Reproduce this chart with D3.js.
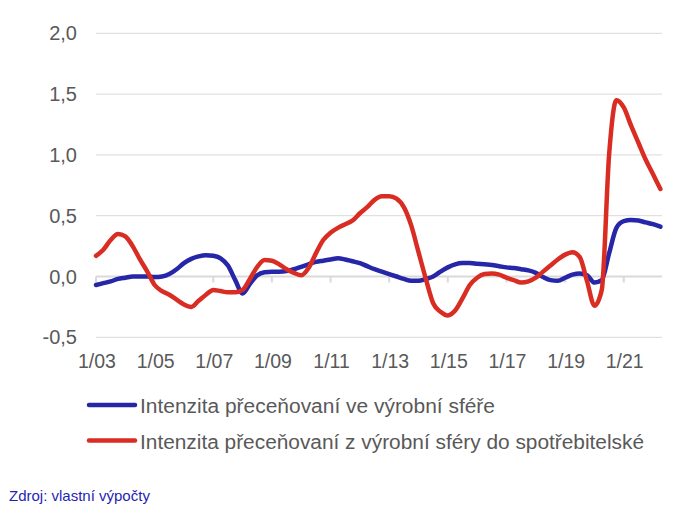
<!DOCTYPE html>
<html>
<head>
<meta charset="utf-8">
<script src="https://cdn.jsdelivr.net/npm/d3@7"></script>
<style>
  html, body { margin: 0; padding: 0; background: #fff; }
  svg { display: block; font-family: "Liberation Sans", Arial, sans-serif; }
</style>
</head>
<body>
<svg id="chart" width="690" height="515"></svg>
<script>
// Quarterly data 2003Q1 .. 2022Q2
const startYear = 2003;
const blueValues = [
  -0.07, -0.055, -0.04, -0.02, -0.01, 0.0, 0.0, 0.0,
  -0.005, 0.0, 0.02, 0.06, 0.11, 0.145, 0.165, 0.175,
  0.17, 0.15, 0.09, -0.03, -0.14, -0.06, 0.01, 0.035,
  0.04, 0.04, 0.045, 0.06, 0.08, 0.10, 0.12, 0.13,
  0.14, 0.15, 0.14, 0.125, 0.11, 0.085, 0.06, 0.04,
  0.02, 0.0, -0.02, -0.035, -0.035, -0.02, 0.0, 0.04,
  0.075, 0.10, 0.11, 0.11, 0.105, 0.10, 0.095, 0.085,
  0.075, 0.07, 0.06, 0.05, 0.03, -0.005, -0.03, -0.035,
  -0.01, 0.015, 0.025, 0.01, -0.05, -0.03, 0.19, 0.40,
  0.455, 0.465, 0.46, 0.445, 0.43, 0.41
];
const redValues = [
  0.17, 0.22, 0.30, 0.35, 0.33, 0.25, 0.14, 0.04,
  -0.07, -0.12, -0.15, -0.19, -0.23, -0.25, -0.20, -0.15,
  -0.11, -0.12, -0.13, -0.13, -0.11, -0.02, 0.08, 0.135,
  0.13, 0.10, 0.06, 0.03, 0.01, 0.07, 0.19, 0.30,
  0.36, 0.40, 0.43, 0.46, 0.52, 0.57, 0.63, 0.66,
  0.66, 0.64, 0.57, 0.42, 0.20, -0.02, -0.22, -0.29,
  -0.32, -0.28, -0.18, -0.07, -0.01, 0.02, 0.025, 0.015,
  -0.01, -0.03, -0.05, -0.04, -0.01, 0.04, 0.09, 0.14,
  0.18, 0.20, 0.16, -0.04, -0.24, -0.11, 1.00, 1.45,
  1.39, 1.24, 1.10, 0.96, 0.84, 0.72
];
const yTicks = [-0.5, 0.0, 0.5, 1.0, 1.5, 2.0];
const xTickLabels = ["1/03", "1/05", "1/07", "1/09", "1/11", "1/13", "1/15", "1/17", "1/19", "1/21"];
const seriesNames = [
  "Intenzita přeceňovaní ve výrobní sféře",
  "Intenzita přeceňovaní z výrobní sféry do spotřebitelské"
];
const sourceText = "Zdroj: vlastní výpočty";

const colors = ["#2626a8", "#d92d23"];
const svg = d3.select("#chart");

const plotLeft = 96, plotRight = 662, plotTop = 33.3, plotBottom = 337.3;
const n = blueValues.length;
const x = d3.scaleLinear().domain([0, n - 1]).range([plotLeft, 660.4]);
const y = d3.scaleLinear().domain([-0.5, 2.0]).range([plotBottom, plotTop]);

// gridlines
svg.append("g").selectAll("line").data(yTicks.filter(d => d !== 0)).join("line")
  .attr("x1", plotLeft).attr("x2", plotRight)
  .attr("y1", d => y(d)).attr("y2", d => y(d))
  .attr("stroke", "#d9d9d9").attr("stroke-width", 1);

// y labels
svg.append("g").selectAll("text").data(yTicks).join("text")
  .attr("x", 77).attr("y", d => y(d))
  .attr("dy", "0.35em")
  .attr("text-anchor", "end")
  .attr("font-size", 20)
  .attr("fill", "#595959")
  .text(d => d3.format(".1f")(d).replace(".", ",").replace("−", "-"));

// zero axis line and ticks
svg.append("line")
  .attr("x1", plotLeft).attr("x2", plotRight)
  .attr("y1", y(0)).attr("y2", y(0))
  .attr("stroke", "#d9d9d9").attr("stroke-width", 2);

const tickIdx = xTickLabels.map((d, i) => i * 8);
svg.append("g").selectAll("line").data(tickIdx).join("line")
  .attr("x1", d => x(d)).attr("x2", d => x(d))
  .attr("y1", y(0)).attr("y2", y(0) + 6)
  .attr("stroke", "#d9d9d9").attr("stroke-width", 2);

svg.append("g").selectAll("text").data(xTickLabels).join("text")
  .attr("x", (d, i) => x(tickIdx[i]) + 1)
  .attr("y", 368)
  .attr("text-anchor", "middle")
  .attr("font-size", 19.5)
  .attr("fill", "#595959")
  .text(d => d);

// lines
const line = d3.line()
  .x((d, i) => x(i))
  .y(d => y(d))
  .curve(d3.curveMonotoneX);

[blueValues, redValues].forEach((vals, k) => {
  svg.append("path")
    .datum(vals)
    .attr("d", line)
    .attr("fill", "none")
    .attr("stroke", colors[k])
    .attr("stroke-width", 4.5)
    .attr("stroke-linejoin", "round")
    .attr("stroke-linecap", "round");
});

// legend
const legY = [405, 440.5];
const legWidths = [355, 504];
seriesNames.forEach((name, k) => {
  svg.append("line")
    .attr("x1", 89).attr("x2", 135)
    .attr("y1", legY[k]).attr("y2", legY[k])
    .attr("stroke", colors[k]).attr("stroke-width", 4.5)
    .attr("stroke-linecap", "round");
  svg.append("text")
    .attr("x", 140).attr("y", legY[k] + 8)
    .attr("font-size", 20)
    .attr("fill", "#595959")
    .attr("textLength", legWidths[k])
    .attr("lengthAdjust", "spacingAndGlyphs")
    .text(name);
});

// source
svg.append("text")
  .attr("x", 9).attr("y", 501)
  .attr("font-size", 15)
  .attr("fill", "#1f1fb4")
  .text(sourceText);
</script>
</body>
</html>
